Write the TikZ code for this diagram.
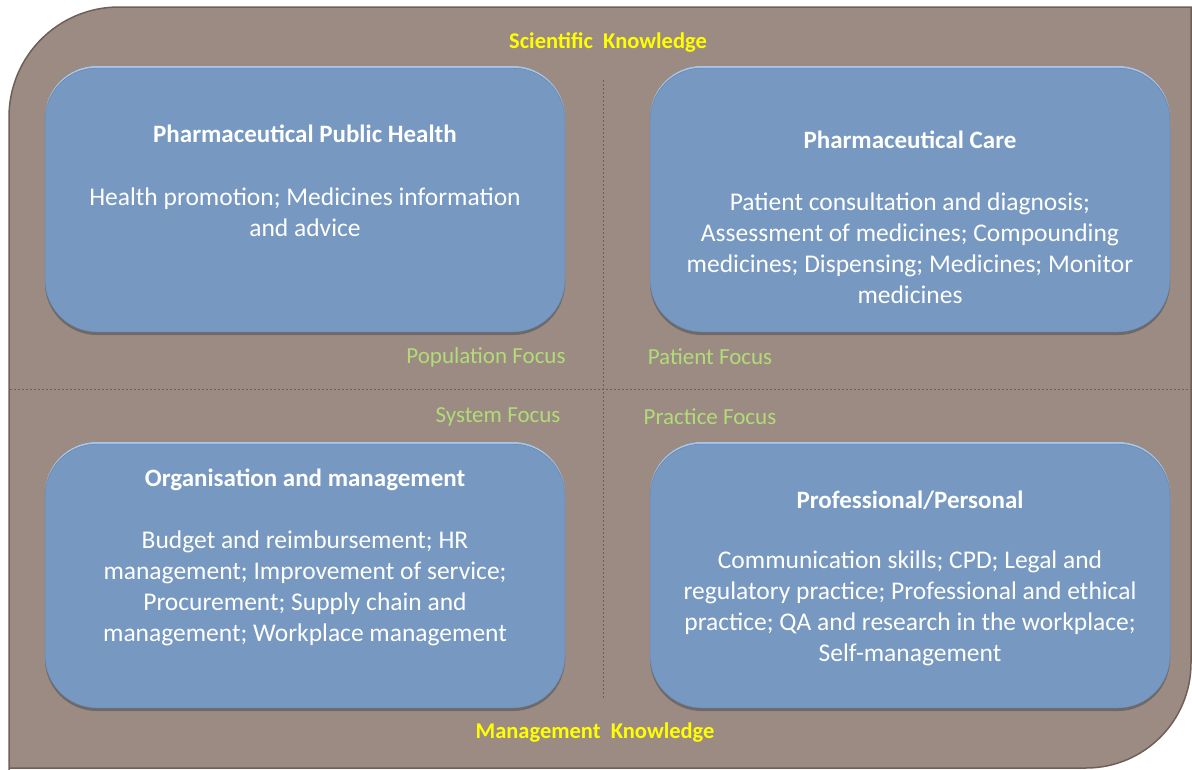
\documentclass[tikz,border=0pt]{standalone}
\usepackage{fontspec}
\setmainfont{Carlito}
\usetikzlibrary{shadows}

\definecolor{quadbg}{HTML}{9B8B83}
\definecolor{quadedge}{HTML}{6F5F57}
\definecolor{boxblue}{HTML}{7698C1}
\definecolor{boxedge}{HTML}{5F80AA}
\definecolor{boxhi}{HTML}{A8C6EA}
\definecolor{focusgreen}{HTML}{B2DC78}
\definecolor{knowyellow}{HTML}{FFFF00}
\definecolor{dividergray}{HTML}{6B5F59}

\begin{document}
\begin{tikzpicture}[x=1pt,y=-1pt,
  area/.style={draw=boxedge,fill=boxblue,rounded corners=52pt,
    minimum width=520pt,minimum height=264pt,inner sep=0pt,
    drop shadow={shadow xshift=0pt,shadow yshift=-3pt,opacity=0.55,fill=black!70},
    preaction={fill=boxhi,transform canvas={yshift=2pt}}},
  areatitle/.style={text=white,font=\fontsize{25}{31}\selectfont\bfseries,inner sep=0pt},
  areabody/.style={text=white,font=\fontsize{25.5}{31}\selectfont,align=center,inner sep=0pt},
  focus/.style={text=focusgreen,font=\fontsize{23}{27}\selectfont,inner sep=0pt},
  knowledge/.style={text=knowyellow,font=\fontsize{22.5}{26}\selectfont\bfseries,inner sep=0pt},
  divider/.style={draw=dividergray,dash pattern=on 2pt off 2pt,line width=0.8pt}]
\useasboundingbox (0,0) rectangle (1192,769);
%\draw[help lines, color=gray!30, dashed] (0,0) grid[step=50] (1192,769);
\fill[white] (0,0) rectangle (1192,769);
\draw[fill=quadbg,draw=quadedge,line width=1.5pt] (9,775) -- (9,117) arc(180:270:110)
  -- (1191,7) -- (1191,663) arc(0:90:105) -- (9,768) -- cycle;
\coordinate (vtop) at (603,80);
\coordinate (vbot) at (603,698);
\coordinate (hleft) at (10,389);
\coordinate (hright) at (1192,389);
\draw[divider] (vtop) -- (vbot);
\draw[divider] (hleft) -- (hright);
% four areas
\node[area] (publichealth) at (305,200) {};
\node[area] (care) at (910,200) {};
\node[area] (organisation) at (305,576) {};
\node[area] (professional) at (910,576) {};
\node[areatitle] (publichealthT) at (305,134) {Pharmaceutical Public Health};
\node[areabody] (publichealthB) at (305,212) {Health promotion; Medicines information\\and advice};
\node[areatitle] (careT) at (910,140) {Pharmaceutical Care};
\node[areabody] (careB) at (910,248) {Patient consultation and diagnosis;\\Assessment of medicines; Compounding\\medicines; Dispensing; Medicines; Monitor\\medicines};
\node[areatitle] (organisationT) at (305,480) {Organisation and management};
\node[areabody] (organisationB) at (305,588) {Budget and reimbursement; HR\\management; Improvement of service;\\Procurement; Supply chain and\\management; Workplace management};
\node[areatitle] (professionalT) at (910,500) {Professional/Personal};
\node[areabody] (professionalB) at (910,608) {Communication skills; CPD; Legal and\\regulatory practice; Professional and ethical\\practice; QA and research in the workplace;\\Self-management};
% focus labels
\node[focus] (population) at (486,357) {Population Focus};
\node[focus] (patient) at (710,357) {Patient Focus};
\node[focus] (system) at (498,417) {System Focus};
\node[focus] (practice) at (710,417) {Practice Focus};
\node[knowledge] (scientific) at (608,42) {Scientific\ \ Knowledge};
\node[knowledge] (management) at (595,733) {Management\ \ Knowledge};
\end{tikzpicture}
\end{document}
